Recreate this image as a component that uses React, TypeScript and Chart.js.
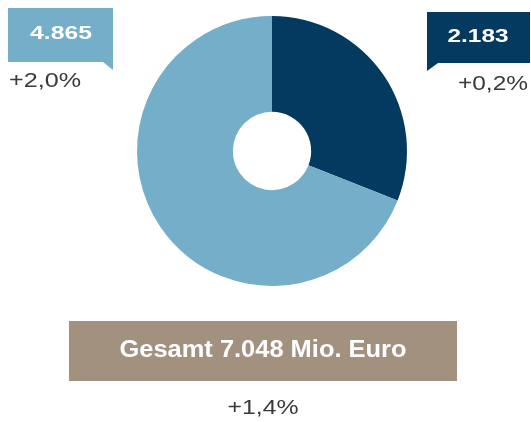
import React, { useEffect, useRef } from "react";
import { Chart, registerables } from "chart.js";

Chart.register(...registerables);

const categories = ["Segment A", "Segment B"];
const values = [2183, 4865];
const valueLabels = ["2.183", "4.865"];
const changeLabels = ["+0,2%", "+2,0%"];
const totalLabel = "Gesamt 7.048 Mio. Euro";
const totalChange = "+1,4%";

const DARK = "#053a60";
const LIGHT = "#74aec8";
const TAUPE = "#a39180";
const TEXT = "#3a3a3a";

function drawText(
  ctx: CanvasRenderingContext2D,
  text: string,
  x: number,
  y: number,
  size: number,
  bold: boolean,
  width: number,
  align: "left" | "center" | "right",
  color: string
) {
  ctx.save();
  ctx.font = `${bold ? "bold " : ""}${size}px "Liberation Sans", Arial, sans-serif`;
  ctx.fillStyle = color;
  ctx.textBaseline = "middle";
  ctx.textAlign = "left";
  const w = ctx.measureText(text).width;
  const sx = width / w;
  let left = x;
  if (align === "center") left = x - width / 2;
  if (align === "right") left = x - width;
  ctx.translate(left, y);
  ctx.scale(sx, 1);
  ctx.fillText(text, 0, 0);
  ctx.restore();
}

const calloutPlugin = {
  id: "callouts",
  afterDraw(chart: any) {
    const ctx: CanvasRenderingContext2D = chart.ctx;
    ctx.save();
    // left callout (light)
    ctx.fillStyle = LIGHT;
    ctx.fillRect(8, 8, 105, 54);
    ctx.beginPath();
    ctx.moveTo(103, 62);
    ctx.lineTo(113, 62);
    ctx.lineTo(113, 70);
    ctx.closePath();
    ctx.fill();
    drawText(ctx, valueLabels[1], 61, 34, 19, true, 62, "center", "#ffffff");
    drawText(ctx, changeLabels[1], 9, 81, 20, false, 72, "left", TEXT);

    // right callout (dark)
    ctx.fillStyle = DARK;
    ctx.fillRect(427, 12, 103, 51);
    ctx.beginPath();
    ctx.moveTo(427, 63);
    ctx.lineTo(438, 63);
    ctx.lineTo(427, 71);
    ctx.closePath();
    ctx.fill();
    drawText(ctx, valueLabels[0], 478, 37, 19, true, 61, "center", "#ffffff");
    drawText(ctx, changeLabels[0], 528, 84, 20, false, 70, "right", TEXT);

    // total box
    ctx.fillStyle = TAUPE;
    ctx.fillRect(69, 321, 388, 60);
    drawText(ctx, totalLabel, 263, 351, 23, true, 287, "center", "#ffffff");
    drawText(ctx, totalChange, 263, 408, 20, false, 71, "center", TEXT);
    ctx.restore();
  },
};

export default function App() {
  const ref = useRef<HTMLCanvasElement>(null);
  useEffect(() => {
    if (!ref.current) return;
    const chart = new Chart(ref.current, {
      type: "doughnut",
      data: {
        labels: categories,
        datasets: [
          {
            data: values,
            backgroundColor: [DARK, LIGHT],
            borderWidth: 0,
          },
        ],
      },
      options: {
        responsive: false,
        animation: false,
        cutout: "29%",
        layout: { padding: { left: 137, right: 124, top: 16, bottom: 136 } },
        plugins: {
          legend: { display: false },
          tooltip: { enabled: false },
        },
      },
      plugins: [calloutPlugin],
    });
    return () => chart.destroy();
  }, []);
  return (
    <div style={{ position: "fixed", left: 0, top: 0, width: 531, height: 422, background: "#fff" }}>
      <canvas ref={ref} width={531} height={422} />
    </div>
  );
}
